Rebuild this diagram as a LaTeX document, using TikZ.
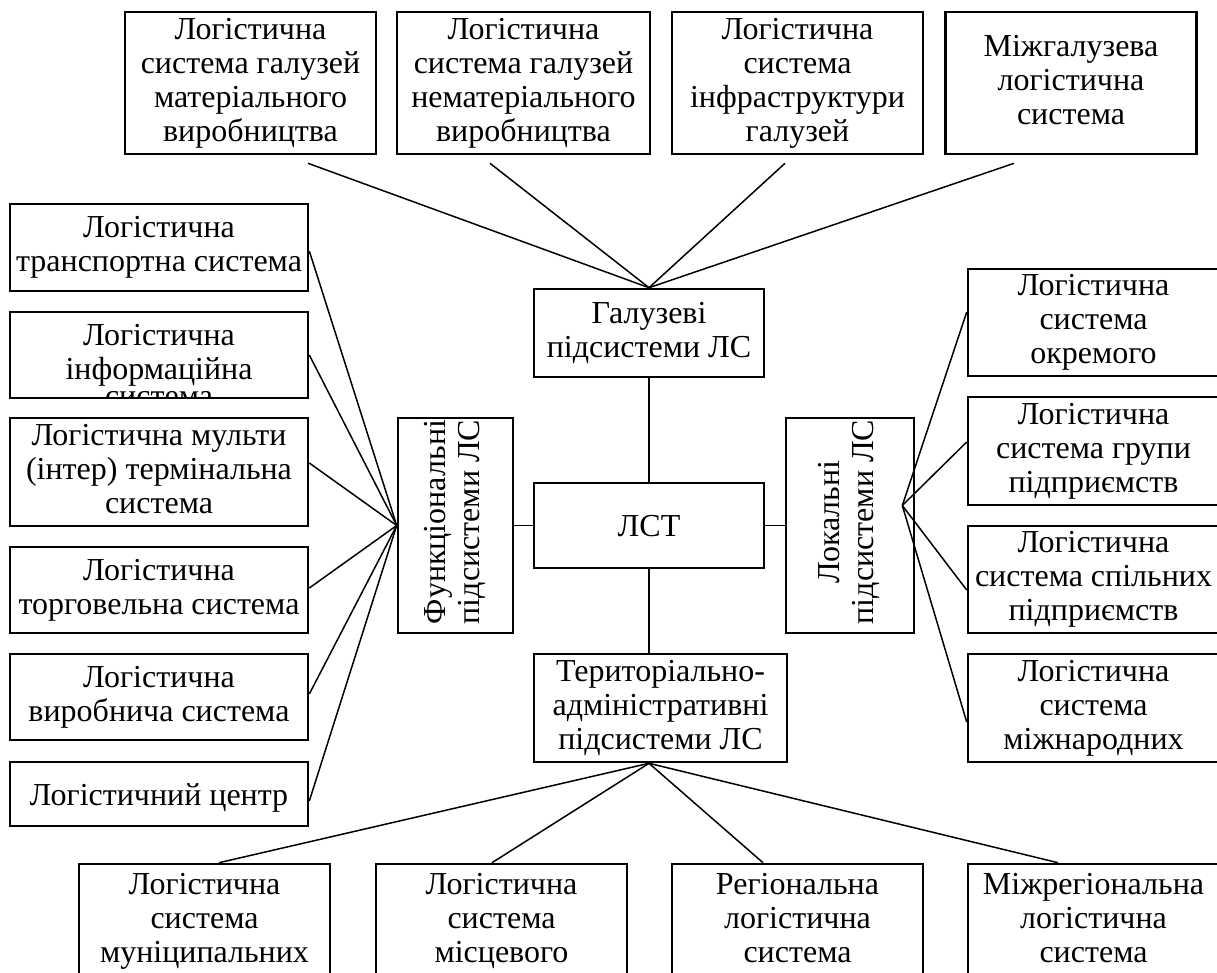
\documentclass[tikz,border=0pt]{standalone}
\usepackage{fontspec}
\setmainfont{Liberation Serif}
\usepackage{graphicx}
\newcommand\uppstrut{\rule{0pt}{29pt}}
\newcommand\lowstrut{\rule[-7pt]{0pt}{7pt}}
\begin{document}
\begin{tikzpicture}[x=1pt, y=-1pt,
  box/.style={draw, line width=2.6pt, align=center, inner sep=0pt, font=\fontsize{32pt}{34pt}\selectfont,
    execute at begin node=\uppstrut, execute at end node=\lowstrut},
  topbox/.style={box, minimum width=251pt, minimum height=142pt},
  leftbox/.style={box, minimum width=298pt},
  rightbox/.style={box, minimum width=251pt},
  botbox/.style={box, minimum width=251pt, minimum height=114pt},
  link/.style={line width=1.5pt}]
\useasboundingbox (0,0) rectangle (1217,972);
\clip (0,0) rectangle (1217,972);
\node[topbox] (t1) at (250.5,83) {Логістична\\система галузей\\матеріального\\виробництва};
\node[topbox, minimum width=253pt] (t2) at (523.5,83) {Логістична\\система галузей\\нематеріального\\виробництва};
\node[topbox] (t3) at (797.5,83) {Логістична\\система\\інфраструктури\\галузей};
\node[topbox] (t4) at (1071,83) {Міжгалузева\\логістична\\система};
\node[box, minimum width=230pt, minimum height=88pt] (gal) at (649,333) {Галузеві\\підсистеми ЛС};
\node[box, minimum width=230pt, minimum height=85pt] (lst) at (649,525.5) {ЛСТ};
\node[box, minimum width=253pt, minimum height=108pt] (ter) at (660.5,708) {Територіально-\\адміністративні\\підсистеми ЛС};
\node[box, minimum width=115pt, minimum height=215pt] (fun) at (455.5,525.5) {\rotatebox{90}{\begin{tabular}{@{}c@{}}Функціональні\\підсистеми ЛС\end{tabular}}};
\node[box, minimum width=128pt, minimum height=215pt] (loc) at (850,525.5) {\rotatebox{90}{\begin{tabular}{@{}c@{}}Локальні\\підсистеми ЛС\end{tabular}}};
\node[leftbox, minimum height=87pt] (l1) at (159,247.5) {Логістична\\транспортна система};
\node[leftbox, minimum height=86pt, path picture={\node[draw=none, inner sep=0pt, anchor=base, font=\fontsize{32pt}{34pt}\selectfont] at ([yshift=-8pt]path picture bounding box.south) {система};}] (l2) at (159,355) {Логістична\\інформаційна};
\node[leftbox, minimum height=108pt] (l3) at (159,472) {Логістична мульти\\(інтер) термінальна\\система};
\node[leftbox, minimum height=86pt] (l4) at (159,590) {Логістична\\торговельна система};
\node[leftbox, minimum height=86pt] (l5) at (159,697) {Логістична\\виробнича система};
\node[leftbox, minimum height=64pt] (l6) at (159,794) {Логістичний центр};
\node[rightbox, minimum height=107pt] (r1) at (1093.5,322.5) {Логістична\\система\\окремого};
\node[rightbox, minimum height=108pt] (r2) at (1093.5,451) {Логістична\\система групи\\підприємств};
\node[rightbox, minimum height=107pt] (r3) at (1093.5,579.5) {Логістична\\система спільних\\підприємств};
\node[rightbox, minimum height=108pt] (r4) at (1093.5,708) {Логістична\\система\\міжнародних};
\node[botbox] (b1) at (204.5,921) {Логістична\\система\\муніципальних};
\node[botbox] (b2) at (501.5,921) {Логістична\\система\\місцевого};
\node[botbox] (b3) at (797.5,921) {Регіональна\\логістична\\система};
\node[botbox] (b4) at (1093.5,921) {Міжрегіональна\\логістична\\система};
\coordinate (hubr) at ([xshift=-13pt, yshift=20pt]loc.east);
\coordinate (hubb) at (lst.south |- ter.south);
\foreach \n/\dx in {t1/57.5, t2/-33.5, t3/-12.5, t4/-57}
  \draw[link] (gal.north) -- ([xshift=\dx pt, yshift=-8pt]\n.south);
\foreach \n/\dy in {l1/-3.5, l2/0, l3/9, l4/2, l5/3, l6/-7}
  \draw[link] (fun.west) -- ([yshift=\dy pt]\n.east);
\foreach \n/\dy in {r1/10.5, r2/9, r3/-10.5, r4/-14}
  \draw[link] (hubr) -- ([yshift=\dy pt]\n.west);
\foreach \n/\dx in {b1/14.5, b2/-9.5, b3/-34.5, b4/-35.5}
  \draw[link] (hubb) -- ([xshift=\dx pt]\n.north);
\draw[link] (gal) -- (lst);
\draw[link] (lst.south) -- (lst.south |- ter.north);
\draw[link] (fun) -- (lst);
\draw[link] (lst) -- (loc);
\end{tikzpicture}
\end{document}
